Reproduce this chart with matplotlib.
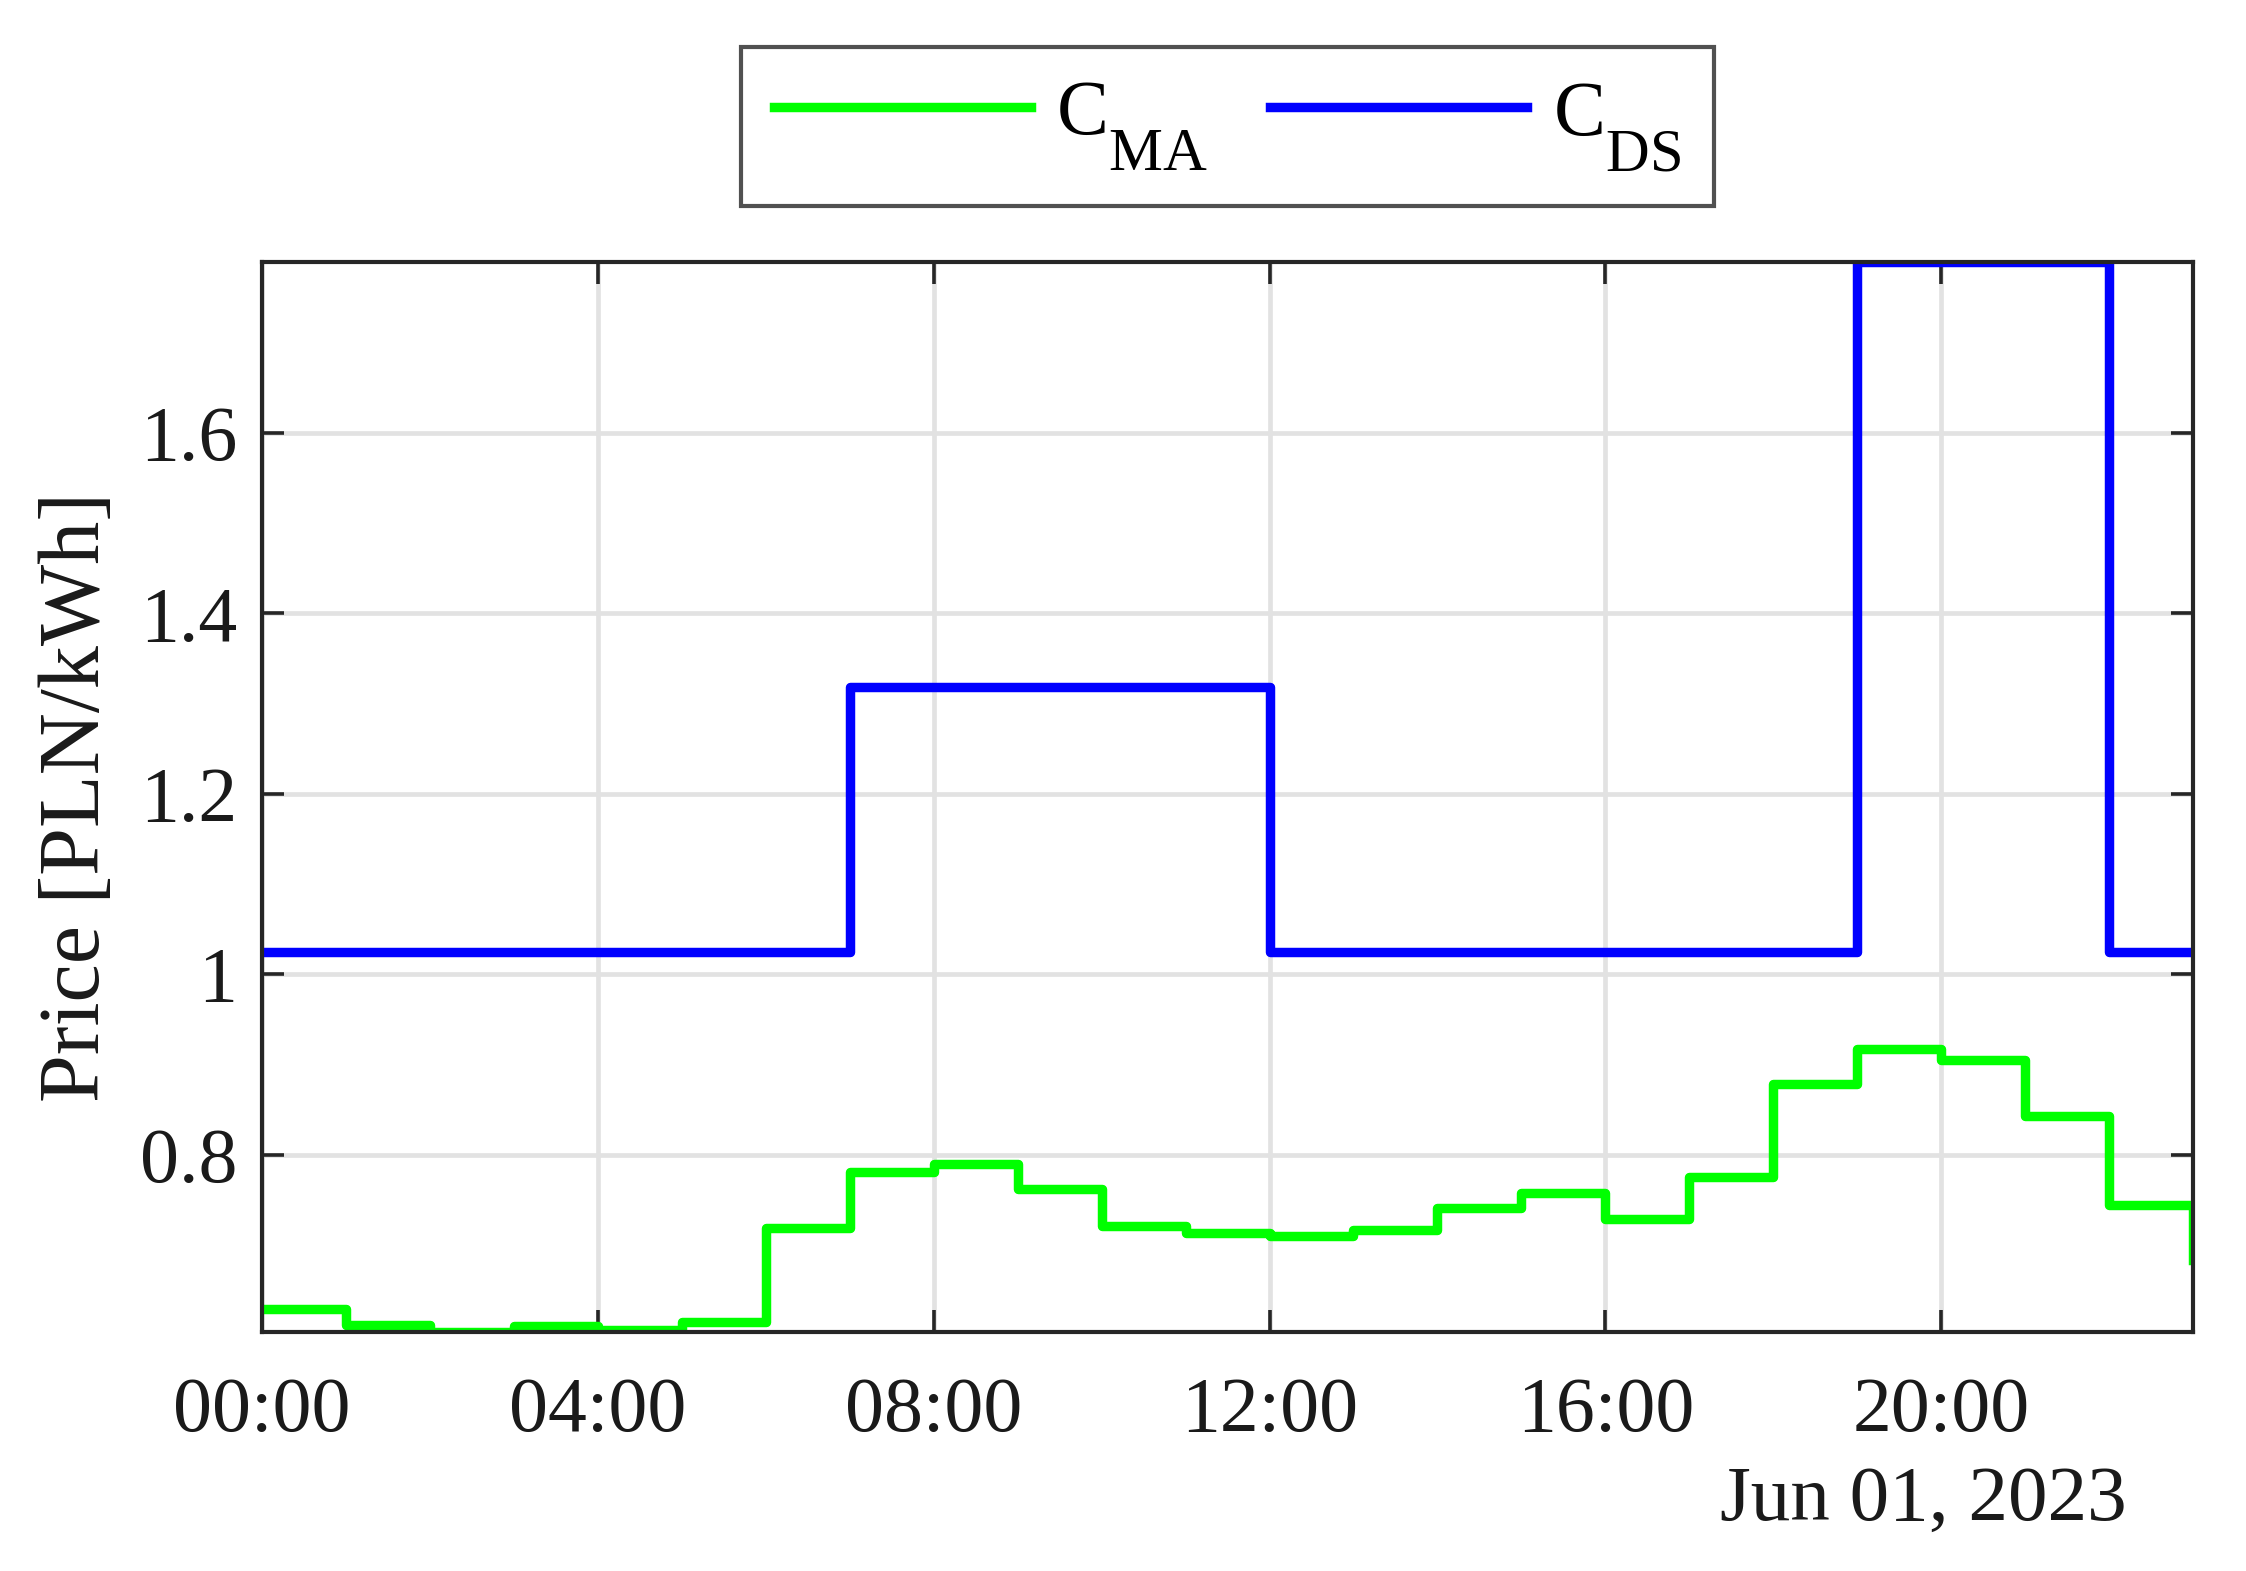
import matplotlib
matplotlib.use("Agg")
import matplotlib.pyplot as plt

try:
    import matplotlib._mathtext as _mt
    _mt.FontConstantsBase.sub1 = 1.0
    _mt.SHRINK_FACTOR = 0.78
except Exception:
    pass

# ---- data ----
hours = list(range(24))
cma = [0.629, 0.611, 0.603, 0.610, 0.606, 0.614, 0.719, 0.781, 0.789, 0.762,
       0.721, 0.713, 0.710, 0.716, 0.741, 0.757, 0.729, 0.775, 0.878, 0.917,
       0.905, 0.843, 0.744, 0.683]
cds = [1.024] * 7 + [1.318] * 5 + [1.024] * 7 + [1.789] * 3 + [1.024] * 2
xtick_pos = [0, 4, 8, 12, 16, 20]
xtick_labels = ["00:00", "04:00", "08:00", "12:00", "16:00", "20:00"]
ytick_pos = [0.8, 1.0, 1.2, 1.4, 1.6]
ytick_labels = ["0.8", "1", "1.2", "1.4", "1.6"]
date_label = "Jun 01, 2023"
series_labels = [r"$\mathrm{C}_{\mathrm{MA}}$", r"$\mathrm{C}_{\mathrm{DS}}$"]
ylabel = "Price [PLN/kWh]"

plt.rcParams["font.family"] = ["Liberation Serif", "DejaVu Serif"]
plt.rcParams["mathtext.fontset"] = "custom"
plt.rcParams["mathtext.rm"] = "Liberation Serif"
plt.rcParams["mathtext.it"] = "Liberation Serif:italic"

FS = 28
axcol = "#262626"
txtcol = "#1a1a1a"
LW = 3.4

fig = plt.figure(figsize=(2246 / 200, 1571 / 200), dpi=200)
ax = fig.add_axes([0.1167, 0.152, 0.9764 - 0.1167, 0.833 - 0.152])

ax.step(hours, cma, where="post", color="#00ff00", lw=LW, label=series_labels[0], zorder=3)
ax.step(hours, cds, where="post", color="#0000ff", lw=LW, label=series_labels[1], zorder=3)

ax.set_xlim(hours[0], hours[-1])
ax.set_ylim(min(cma), max(cds))

ax.set_xticks(xtick_pos)
ax.set_xticklabels(xtick_labels)
ax.set_yticks(ytick_pos)
ax.set_yticklabels(ytick_labels)

ax.grid(True, color="#e2e2e2", lw=1.7)
ax.set_axisbelow(True)
for s in ax.spines.values():
    s.set_color(axcol)
    s.set_linewidth(1.5)
    s.set_zorder(4)
ax.tick_params(axis="both", which="both", direction="in", length=8, width=1.3,
               color=axcol, labelsize=FS, labelcolor=txtcol,
               top=True, right=True)
ax.tick_params(axis="x", pad=16)
ax.tick_params(axis="y", pad=9)

ax.set_ylabel(ylabel, fontsize=31, color=txtcol, labelpad=8)

fig.text(0.947, 0.0446, date_label, ha="right", va="center", fontsize=28.5, color=txtcol)

leg = ax.legend(loc="lower center", bbox_to_anchor=(0.5, 1.053), ncol=2,
                fontsize=FS, frameon=True, fancybox=False, borderaxespad=0,
                handlelength=3.3, handletextpad=0.33, columnspacing=0.8,
                borderpad=0.42)
leg.get_frame().set_edgecolor(axcol)
leg.get_frame().set_linewidth(1.5)
for h in leg.get_lines():
    h.set_linewidth(LW)

fig.savefig("out.png", dpi=200)
